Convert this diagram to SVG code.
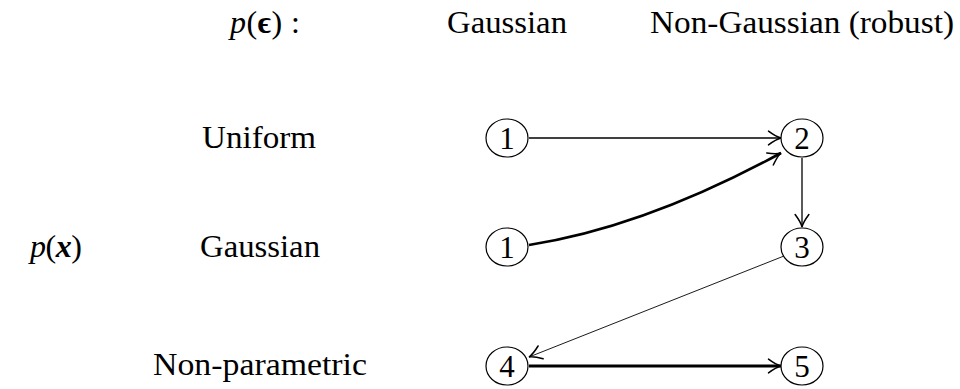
<svg xmlns="http://www.w3.org/2000/svg" width="960" height="389" viewBox="0 0 960 389">
<style>
text{font-family:"Liberation Serif","DejaVu Serif",serif;fill:#000}
.lbl{font-size:32px;text-anchor:middle}
.num{font-size:31px;text-anchor:middle}
.node ellipse{fill:#fff;stroke:#000;stroke-width:1.2}
.e{fill:none;stroke:#000}
.it{font-style:italic}
.b{font-weight:bold}
</style>
<defs>
<marker id="ar" markerUnits="userSpaceOnUse" markerWidth="20" markerHeight="20" viewBox="-12 -8 14 16" refX="0" refY="0" orient="auto">
<path d="M-10,-5.5 Q-4,-1 0,0 Q-4,1 -10,5.5" fill="none" stroke="#000" stroke-width="1.2" stroke-linecap="round"/>
</marker>
</defs>
<g id="headers">
<text x="230" y="33" font-size="32" textLength="70" lengthAdjust="spacing"><tspan class="it">p</tspan>(<tspan class="b">ϵ</tspan>) :</text>
<text class="lbl" x="507" y="33" textLength="120" lengthAdjust="spacingAndGlyphs">Gaussian</text>
<text class="lbl" x="802" y="33" textLength="304" lengthAdjust="spacingAndGlyphs">Non-Gaussian (robust)</text>
<text class="lbl" x="259" y="148" textLength="114" lengthAdjust="spacingAndGlyphs">Uniform</text>
<text class="lbl" x="260" y="257" textLength="120" lengthAdjust="spacingAndGlyphs">Gaussian</text>
<text class="lbl" x="260" y="375" textLength="214" lengthAdjust="spacingAndGlyphs">Non-parametric</text>
<text x="30" y="257" font-size="32" textLength="52" lengthAdjust="spacing"><tspan class="it">p</tspan>(<tspan class="b it">x</tspan>)</text>
</g>
<g id="connectors">
<path class="e" d="M529,138 L781,138" stroke-width="1.4" marker-end="url(#ar)"/>
<path class="e" d="M529,245 Q645,227 781,153" stroke-width="2.6" marker-end="url(#ar)"/>
<path class="e" d="M802,158 L802,227" stroke-width="1.3" marker-end="url(#ar)"/>
<path class="e" d="M784,256 L529,357" stroke-width="0.9" marker-end="url(#ar)"/>
<path class="e" d="M529,366 L781,366" stroke-width="3" marker-end="url(#ar)"/>
</g>
<g id="n1a" class="node"><ellipse cx="507" cy="138" rx="21" ry="19"/><text class="num" x="507" y="149">1</text></g>
<g id="n2" class="node"><ellipse cx="802" cy="138" rx="21" ry="19"/><text class="num" x="802" y="149">2</text></g>
<g id="n1b" class="node"><ellipse cx="507" cy="247" rx="21" ry="19"/><text class="num" x="507" y="258">1</text></g>
<g id="n3" class="node"><ellipse cx="802" cy="247" rx="21" ry="19"/><text class="num" x="802" y="258">3</text></g>
<g id="n4" class="node"><ellipse cx="507" cy="366" rx="21" ry="19"/><text class="num" x="507" y="377">4</text></g>
<g id="n5" class="node"><ellipse cx="802" cy="366" rx="21" ry="19"/><text class="num" x="802" y="377">5</text></g>
</svg>
